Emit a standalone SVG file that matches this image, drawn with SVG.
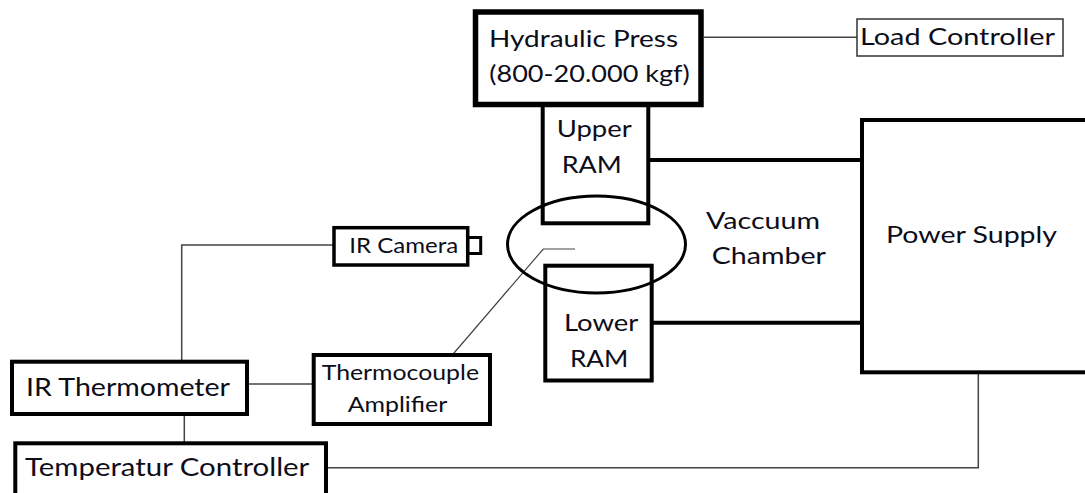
<svg xmlns="http://www.w3.org/2000/svg" width="1085" height="493" viewBox="0 0 1085 493">
<style>
  .box{fill:#fff;stroke:#000;}
  .thick{stroke-width:5.5;}
  .med{stroke-width:4;}
  .cam{stroke-width:3.5;}
  .thin{fill:#fff;stroke:#333;stroke-width:1.5;}
  .wire{fill:none;stroke:#444;stroke-width:1.5;}
  .bus{fill:none;stroke:#000;stroke-width:4;}
  text{font-family:Lato,"Open Sans","Liberation Sans",sans-serif;fill:#0d0d1a;}
  .t23{font-size:24px;}
  .t21{font-size:21.5px;}
  .t25{font-size:25.5px;}
</style>
<rect width="1085" height="493" fill="#fff"/>

<g id="connectors">
  <line class="wire" x1="704" y1="37.3" x2="857" y2="37.3"/>
  <polyline class="wire" points="334,245 181.7,245 181.7,361.7"/>
  <line class="wire" x1="247" y1="384" x2="313.7" y2="384"/>
  <line class="wire" x1="184.3" y1="414" x2="184.3" y2="443.3"/>
  <polyline class="wire" points="326,467.8 978.3,467.8 978.3,372.3"/>
  <polyline class="wire" style="stroke-width:1.2" points="452.3,355 543.3,249 575,249"/>
  <line class="bus" x1="648" y1="160" x2="862" y2="160"/>
  <line class="bus" x1="651.7" y1="322.7" x2="865" y2="322.7"/>
</g>

<g id="power-supply">
  <rect class="box med" x="862" y="120" width="230" height="252.3"/>
  <text class="t23" x="886" y="243.3" textLength="171" lengthAdjust="spacingAndGlyphs">Power Supply</text>
</g>

<g id="upper-ram">
  <rect class="box med" x="542.7" y="104" width="105.6" height="119.3"/>
  <text class="t23" x="556.7" y="136.7" textLength="75" lengthAdjust="spacingAndGlyphs">Upper</text>
  <text class="t23" x="561.7" y="172.7" textLength="60" lengthAdjust="spacingAndGlyphs">RAM</text>
</g>

<g id="hydraulic-press">
  <rect class="box thick" x="475.5" y="12" width="225.5" height="92.5"/>
  <text class="t23" x="489" y="46.7" textLength="189" lengthAdjust="spacingAndGlyphs">Hydraulic Press</text>
  <text class="t23" x="489.3" y="82" textLength="200.5" lengthAdjust="spacingAndGlyphs">(800-20.000 kgf)</text>
</g>

<g id="load-controller">
  <rect class="thin" x="857" y="19" width="206" height="37"/>
  <text class="t23" x="860" y="45" textLength="195" lengthAdjust="spacingAndGlyphs">Load Controller</text>
</g>

<g id="lower-ram">
  <rect class="box med" x="545.3" y="265.7" width="106.4" height="114.8"/>
  <text class="t23" x="564" y="331" textLength="74.3" lengthAdjust="spacingAndGlyphs">Lower</text>
  <text class="t23" x="570" y="366.7" textLength="58.3" lengthAdjust="spacingAndGlyphs">RAM</text>
</g>

<g id="vacuum-chamber">
  <ellipse cx="596.5" cy="244.5" rx="89" ry="48.5" fill="none" stroke="#000" stroke-width="3"/>
  <text class="t23" x="706" y="229.3" textLength="114" lengthAdjust="spacingAndGlyphs">Vaccuum</text>
  <text class="t23" x="711.7" y="264.3" textLength="114.3" lengthAdjust="spacingAndGlyphs">Chamber</text>
</g>

<g id="ir-camera">
  <rect class="box cam" x="467.7" y="237.5" width="13" height="16" style="stroke-width:3"/>
  <rect class="box cam" x="334" y="227.7" width="133.7" height="37.3"/>
  <text class="t21" x="349.3" y="253" textLength="109" lengthAdjust="spacingAndGlyphs">IR Camera</text>
</g>

<g id="ir-thermometer">
  <rect class="box med" x="12" y="361.7" width="235" height="52.3"/>
  <text class="t25" x="26" y="396.3" textLength="204" lengthAdjust="spacingAndGlyphs">IR Thermometer</text>
</g>

<g id="thermocouple-amplifier">
  <rect class="box med" x="313.7" y="355" width="176.3" height="69"/>
  <text class="t21" x="321.7" y="379.7" textLength="157.3" lengthAdjust="spacingAndGlyphs">Thermocouple</text>
  <text class="t21" x="347.7" y="412.3" textLength="99.6" lengthAdjust="spacingAndGlyphs">Amplifier</text>
</g>

<g id="temperatur-controller">
  <rect class="box med" x="15.3" y="443.3" width="310.7" height="60"/>
  <text class="t25" x="25" y="476.3" textLength="284.3" lengthAdjust="spacingAndGlyphs">Temperatur Controller</text>
</g>
</svg>
